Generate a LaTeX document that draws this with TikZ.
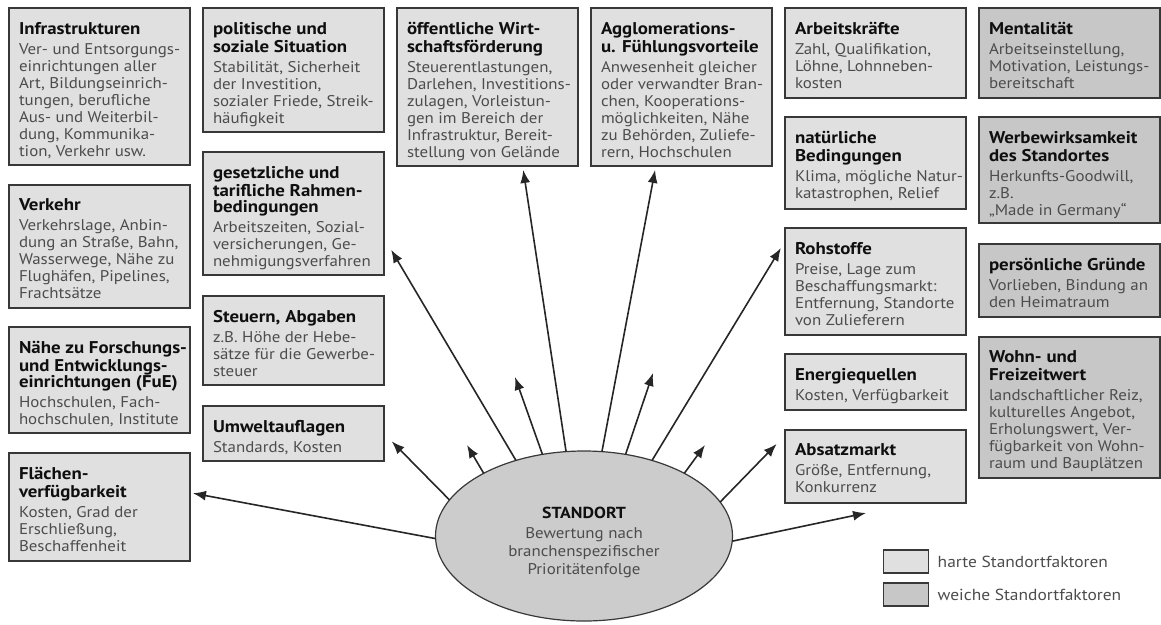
\documentclass[tikz,border=0pt]{standalone}
\usepackage{fontspec}
\setmainfont{PT Sans}[FakeStretch=1.09, BoldFeatures={FakeStretch=1.11}]
\usetikzlibrary{shapes.geometric,arrows.meta,positioning}

\definecolor{hellgrau}{gray}{0.88}
\definecolor{dunkelgrau}{gray}{0.78}
\definecolor{ortgrau}{gray}{0.80}
\definecolor{randgrau}{gray}{0.22}
\definecolor{textgrau}{gray}{0.30}
\definecolor{titelgrau}{gray}{0.06}

% box content: height, title, body
\newcommand{\faktor}[3]{\makebox[161pt][l]{\parbox[c][#1pt][t]{240pt}{\raggedright\vspace*{14pt}%
  {\fontsize{17}{16}\selectfont\bfseries\color{titelgrau}\strut#2\par}\vspace{3pt}%
  {\color{textgrau}#3\par}}}}

\tikzset{
  hart/.style={draw=randgrau, line width=1.6pt, fill=hellgrau, anchor=north west,
    inner xsep=10pt, inner ysep=0pt, outer sep=0pt, font=\fontsize{15.5}{17}\selectfont},
  weich/.style={hart, fill=dunkelgrau},
  ort/.style={ellipse, draw=randgrau, line width=1.2pt, fill=ortgrau, minimum width=242pt,
    minimum height=170pt, inner sep=0pt, outer sep=0pt, text=textgrau,
    font=\fontsize{15.5}{18}\selectfont},
  pfeil/.style={-{Latex[length=13pt,width=10pt]}, line width=1.6pt, draw=black!85},
  legende/.style={draw=randgrau, line width=1.6pt, minimum width=45pt, minimum height=23pt,
    inner sep=0pt, outer sep=0pt},
  legtext/.style={text=textgrau, font=\fontsize{16}{18}\selectfont, inner sep=0pt}
}

\begin{document}
\begin{tikzpicture}[x=1pt,y=-1pt]
    \useasboundingbox (0,0) rectangle (1161,624);

    % Nodes: harte Faktoren, links
    \node[hart] (infra) at (9,8) {\faktor{157}{Infrastrukturen}{Ver- und Entsorgungs-\\einrichtungen aller\\Art, Bildungseinrich-\\tungen, berufliche\\Aus- und Weiterbil-\\dung, Kommunika-\\tion, Verkehr usw.}};
    \node[hart] (verkehr) at (9,185) {\faktor{123}{Verkehr}{Verkehrslage, Anbin-\\dung an Straße, Bahn,\\Wasserwege, Nähe zu\\Flughäfen, Pipelines,\\Frachtsätze}};
    \node[hart] (fue) at (9,327) {\faktor{106}{Nähe zu Forschungs-\\und Entwicklungs-\\einrichtungen (FuE)}{Hochschulen, Fach-\\hochschulen, Institute}};
    \node[hart] (flaechen) at (9,453) {\faktor{108}{Flächen-\\verfügbarkeit}{Kosten, Grad der\\Erschließung,\\Beschaffenheit}};

    \node[hart] (politik) at (203,8) {\faktor{124}{politische und\\soziale Situation}{Stabilität, Sicherheit\\der Investition,\\sozialer Friede, Streik-\\häufigkeit}};
    \node[hart] (gesetz) at (203,152) {\faktor{123}{gesetzliche und\\tarifliche Rahmen-\\bedingungen}{Arbeitszeiten, Sozial-\\versicherungen, Ge-\\nehmigungsverfahren}};
    \node[hart] (steuern) at (203,296) {\faktor{89}{Steuern, Abgaben}{z.B. Höhe der Hebe-\\sätze für die Gewerbe-\\steuer}};
    \node[hart] (umwelt) at (203,406) {\faktor{55}{Umweltauflagen}{Standards, Kosten}};

    % Nodes: oben
    \node[hart] (foerderung) at (397,8) {\faktor{158}{öffentliche Wirt-\\schaftsförderung}{Steuerentlastungen,\\Darlehen, Investitions-\\zulagen, Vorleistun-\\gen im Bereich der\\Infrastruktur, Bereit-\\stellung von Gelände}};
    \node[hart] (agglo) at (591,8) {\faktor{158}{Agglomerations-\\u. Fühlungsvorteile}{Anwesenheit gleicher\\oder verwandter Bran-\\chen, Kooperations-\\möglichkeiten, Nähe\\zu Behörden, Zuliefe-\\rern, Hochschulen}};

    % Nodes: rechts
    \node[hart] (arbeit) at (785,8) {\faktor{90}{Arbeitskräfte}{Zahl, Qualifikation,\\Löhne, Lohnneben-\\kosten}};
    \node[hart] (natur) at (785,117) {\faktor{92}{natürliche\\Bedingungen}{Klima, mögliche Natur-\\katastrophen, Relief}};
    \node[hart] (rohstoffe) at (785,228) {\faktor{107}{Rohstoffe}{Preise, Lage zum\\Beschaffungsmarkt:\\Entfernung, Standorte\\von Zulieferern}};
    \node[hart] (energie) at (785,354) {\faktor{56}{Energiequellen}{Kosten, Verfügbarkeit}};
    \node[hart] (absatz) at (785,430) {\faktor{73}{Absatzmarkt}{Größe, Entfernung,\\Konkurrenz}};

    % Nodes: weiche Faktoren
    \node[weich] (mentalitaet) at (979,8) {\faktor{90}{Mentalität}{Arbeitseinstellung,\\Motivation, Leistungs-\\bereitschaft}};
    \node[weich] (werbung) at (979,117) {\faktor{106}{Werbewirksamkeit\\des Standortes}{Herkunfts-Goodwill,\\z.B.\\„Made in Germany“}};
    \node[weich] (persoenlich) at (979,244) {\faktor{73}{persönliche Gründe}{Vorlieben, Bindung an\\den Heimatraum}};
    \node[weich] (wohnen) at (979,337) {\faktor{141}{Wohn- und\\Freizeitwert}{landschaftlicher Reiz,\\kulturelles Angebot,\\Erholungswert, Ver-\\fügbarkeit von Wohn-\\raum und Bauplätzen}};

    % Standort
    \node[ort] (standort) at (584,536) {\parbox{210pt}{\centering\vspace*{12pt}%
      {\fontsize{16}{18}\selectfont\bfseries\color{titelgrau}STANDORT\par}\vspace{2pt}%
      Bewertung nach\\branchenspezifischer\\Prioritätenfolge}};

    % free arrow ends
    \coordinate (k1) at (467,445);
    \coordinate (k2) at (515,377);
    \coordinate (k3) at (653,373);
    \coordinate (k4) at (705,445);
    \coordinate (k5) at (866,513);

    % Lines
    \draw[pfeil, shorten >=3pt] (standort.181) -- (flaechen.9);
    \draw[pfeil, shorten >=11pt] (standort.165) -- (umwelt.east);
    \draw[pfeil] (standort.148) -- (k1);
    \draw[pfeil, shorten >=14pt] (standort.132) -- (gesetz.-15);
    \draw[pfeil] (standort.117) -- (k2);
    \draw[pfeil, shorten >=4pt] (standort.102) -- (foerderung.-66);
    \draw[pfeil, shorten >=4pt] (standort.78) -- (agglo.-108);
    \draw[pfeil] (standort.63) -- (k3);
    \draw[pfeil, shorten >=8pt] (standort.48) -- (rohstoffe.156);
    \draw[pfeil] (standort.32) -- (k4);
    \draw[pfeil, shorten >=12pt] (standort.14) -- (absatz.161);
    \draw[pfeil] (standort.-2) -- (k5);

    % Legende
    \node[legende, fill=hellgrau] (leghart) at (906,561.5) {};
    \node[legende, fill=dunkelgrau] (legweich) at (906,594.5) {};
    \node[legtext, right=9pt of leghart] (leghartText) {harte Standortfaktoren};
    \node[legtext, right=9pt of legweich] (legweichText) {weiche Standortfaktoren};

\end{tikzpicture}
\end{document}
